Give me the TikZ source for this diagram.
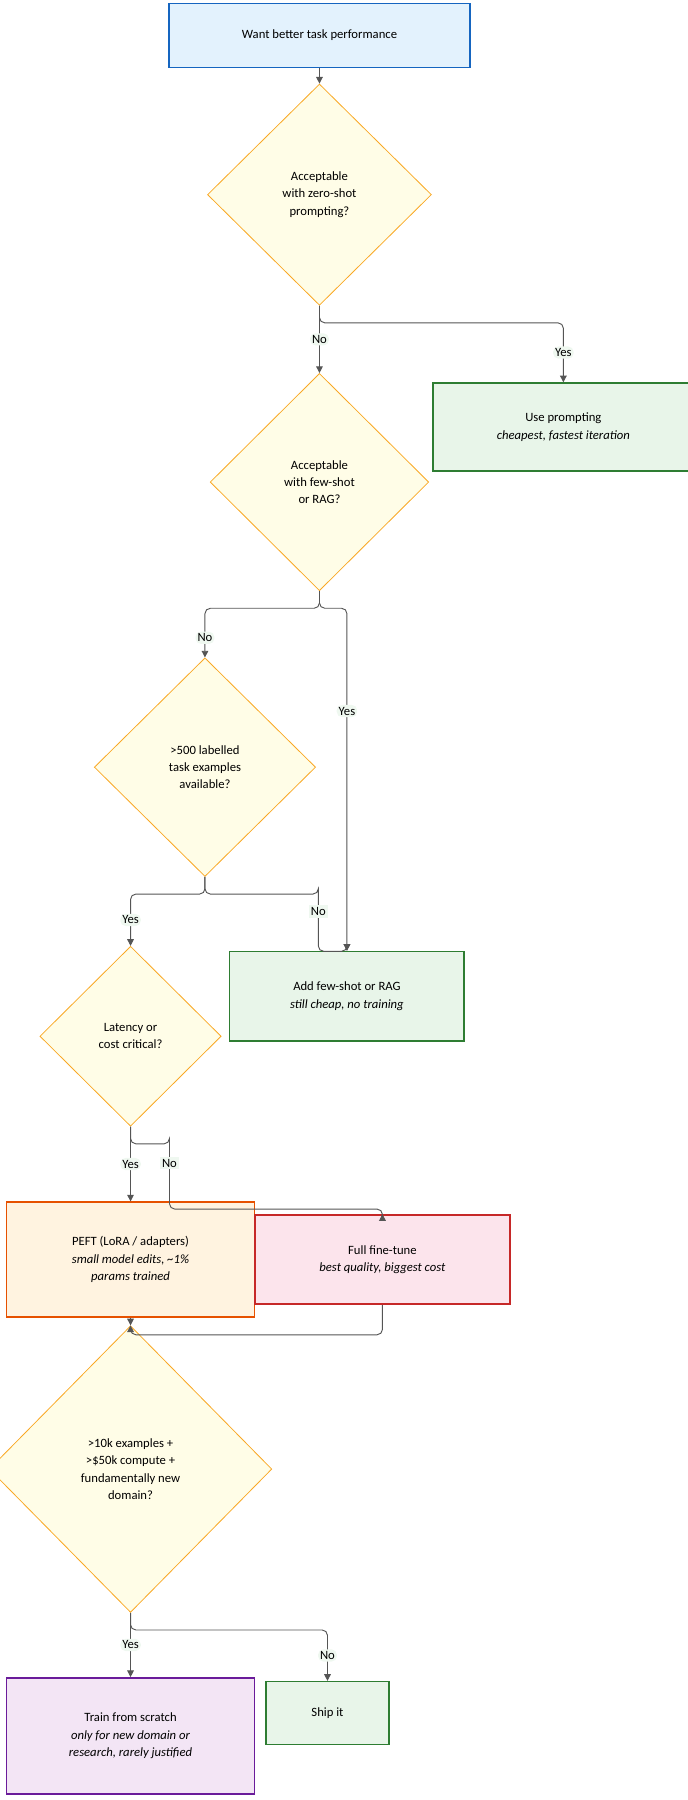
\documentclass[tikz,border=0pt]{standalone}
\usepackage{fontspec}
\setmainfont{Carlito}
\usepackage{tikz}
\usetikzlibrary{shapes.geometric,arrows.meta}
\definecolor{flblue}{RGB}{227, 242, 253}
\definecolor{flblueline}{RGB}{21, 101, 192}
\definecolor{flyellow}{RGB}{255, 253, 231}
\definecolor{flyellowline}{RGB}{249, 168, 37}
\definecolor{flgreen}{RGB}{232, 245, 233}
\definecolor{flgreenline}{RGB}{46, 125, 50}
\definecolor{florange}{RGB}{255, 243, 224}
\definecolor{florangeline}{RGB}{230, 81, 0}
\definecolor{flpink}{RGB}{252, 228, 236}
\definecolor{flpinkline}{RGB}{198, 40, 40}
\definecolor{flpurple}{RGB}{243, 229, 245}
\definecolor{flpurpleline}{RGB}{106, 27, 154}
\definecolor{flline}{RGB}{85, 85, 85}

\begin{document}
\begin{tikzpicture}[x=0.859pt, y=-0.859pt,
  font=\fontsize{9.5}{13}\selectfont,
  box/.style={draw, line width=1.2pt, align=center, inner sep=0pt},
  decide/.style={diamond, draw=flyellowline, fill=flyellow, line width=0.6pt, align=center, inner sep=0pt},
  flow/.style={draw=flline, line width=0.7pt, rounded corners=4pt, -{Triangle[length=5pt,width=5pt]}},
  tag/.style={fill=flgreen!70, inner sep=1.5pt, font=\fontsize{9.5}{11}\selectfont}]
\useasboundingbox (0,0) rectangle (600,1572);

% Boxes
\node[box, draw=flblueline, fill=flblue, minimum width=226, minimum height=48] (start) at (279,31) {Want better task performance};
\node[box, draw=flgreenline, fill=flgreen, minimum width=196, minimum height=66] (prompt) at (492,373) {Use prompting\\\textit{cheapest, fastest iteration}};
\node[box, draw=flgreenline, fill=flgreen, minimum width=176, minimum height=67] (fewshot) at (303,870) {Add few-shot or RAG\\\textit{still cheap, no training}};
\node[box, draw=florangeline, fill=florange, minimum width=186, minimum height=86] (peft) at (114,1100) {PEFT (LoRA / adapters)\\\textit{small model edits, \textasciitilde1\%}\\\textit{params trained}};
\node[box, draw=flpinkline, fill=flpink, minimum width=191, minimum height=67] (full) at (334,1100) {Full fine-tune\\\textit{best quality, biggest cost}};
\node[box, draw=flpurpleline, fill=flpurple, minimum width=186, minimum height=87] (scratch) at (114,1516) {Train from scratch\\\textit{only for new domain or}\\\textit{research, rarely justified}};
\node[box, draw=flgreenline, fill=flgreen, minimum width=92, minimum height=47] (ship) at (286,1496) {Ship it};

% Decisions
\node[decide, minimum width=168, minimum height=166] (zero) at (279,170) {Acceptable\\with zero-shot\\prompting?};
\node[decide, minimum width=164, minimum height=163] (few) at (279,421) {Acceptable\\with few-shot\\or RAG?};
\node[decide, minimum width=166, minimum height=164] (labels) at (179,670) {>500 labelled\\task examples\\available?};
\node[decide, minimum width=136, minimum height=135] (latency) at (114,905) {Latency or\\cost critical?};
\node[decide, minimum width=212, minimum height=215] (big) at (114,1283) {>10k examples +\\>\$50k compute +\\fundamentally new\\domain?};

% Connectors
\draw[flow] (start) -- (zero);
\draw[flow] (zero.south) -- (few.north) node[tag, pos=0.5] {No};
\draw[flow] (zero.south) |- ++(0,15) -| (prompt.north) node[tag, pos=0.75] {Yes};
\draw[flow] (few.south) -- ++(0,15) -| (labels.north) node[tag, pos=0.8] {No};
\draw[flow] (few.south) -- ++(0,15) -| (fewshot.north) node[tag, pos=0.65] {Yes};
\draw[flow] (labels.south) -- ++(0,15) -| (latency.north) node[tag, pos=0.75] {Yes};
\draw[flow] (labels.south) -- ++(0,15) -| ++(99,0) -- ++(0,50) -| (fewshot.north);
\node[tag] (labelsno) at (278,796) {No};
\draw[flow] (latency.south) -- (peft.north) node[tag, pos=0.5] {Yes};
\draw[flow] (latency.south) -- ++(0,15) -| ++(34,0) -- ++(0,57) -| (full.north);
\node[tag] (latencyno) at (148,1016) {No};
\draw[flow] (peft.south) -- (big.north);
\draw[flow] (full.south) -- ++(0,26) -| (big.north);
\draw[flow] (big.south) -- (scratch.north) node[tag, pos=0.5] {Yes};
\draw[flow] (big.south) -- ++(0,15) -| (ship.north) node[tag, pos=0.75] {No};
\end{tikzpicture}
\end{document}
